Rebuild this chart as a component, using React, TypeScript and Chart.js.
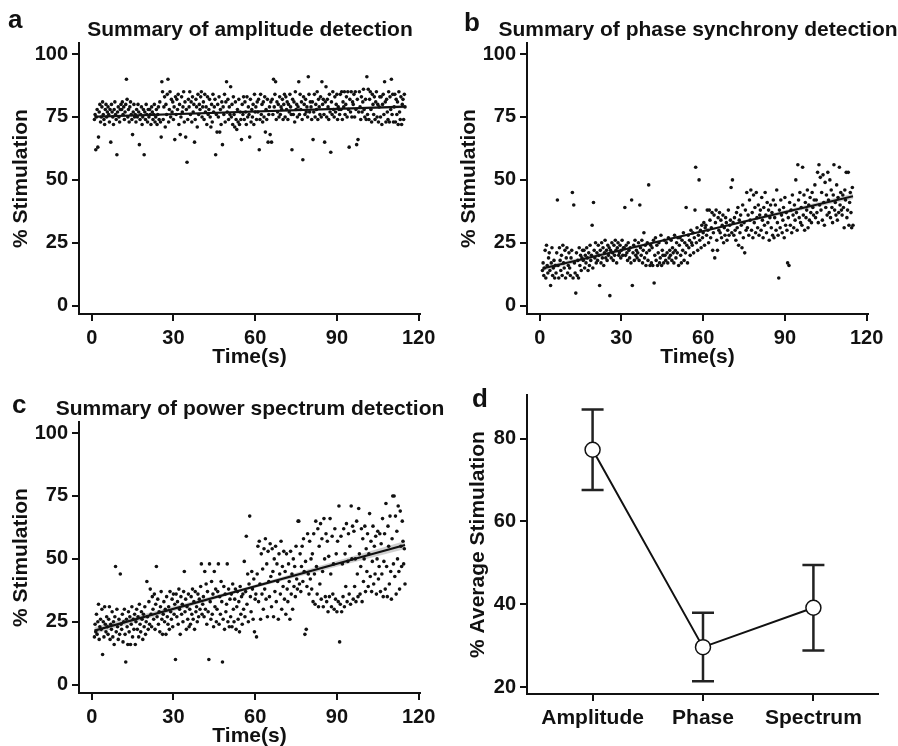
import React, { useEffect, useRef } from "react";
import { Chart, registerables } from "chart.js";

Chart.register(...registerables);

const FONT = "'Liberation Sans', Arial, Helvetica, sans-serif";
const INK = "#111111";

// ---- shared axis ticks ----
const timeTicks = [0, 30, 60, 90, 120];
const pctTicks = [0, 25, 50, 75, 100];
// samples start at 1 s and are taken every 0.25 s
const SAMPLE_START_S = 1;
const SAMPLE_STEP_S = 0.25;

// ---- panel a: amplitude detection (% stimulation per sample) ----
const amplitudeValues = [
  74, 76, 62, 75, 78, 63, 67, 77, 80, 73, 75, 79, 81, 76, 74, 72, 78, 80, 75, 77,
  79, 76, 73, 78, 65, 80, 77, 75, 72, 78, 81, 76, 74, 60, 77, 79, 75, 73, 78, 80,
  78, 81, 76, 79, 74, 77, 80, 90, 82, 75, 78, 73, 79, 81, 76, 74, 68, 77, 80, 75,
  76, 73, 78, 75, 80, 77, 64, 74, 76, 79, 72, 75, 78, 60, 77, 74, 80, 76, 73, 78,
  75, 78, 76, 72, 79, 77, 74, 76, 80, 73, 75, 78, 72, 76, 79, 74, 81, 73, 67, 89,
  85, 74, 79, 83, 71, 80, 76, 84, 90, 73, 78, 85, 75, 82, 77, 81, 74, 79, 66, 83,
  76, 82, 78, 84, 72, 80, 68, 75, 83, 77, 79, 85, 73, 81, 67, 78, 57, 74, 82, 79,
  85, 76, 81, 73, 83, 77, 80, 65, 74, 82, 79, 71, 84, 76, 80, 78, 83, 85, 75, 79,
  81, 74, 84, 77, 79, 72, 83, 76, 78, 82, 75, 71, 80, 73, 84, 77, 79, 82, 60, 76,
  69, 80, 75, 83, 69, 78, 72, 81, 64, 79, 76, 84, 73, 81, 89, 77, 82, 74, 79, 76,
  87, 75, 80, 72, 83, 76, 71, 81, 74, 70, 78, 73, 82, 72, 77, 74, 66, 80, 76, 83,
  74, 81, 77, 72, 83, 75, 79, 76, 67, 82, 73, 78, 75, 80, 72, 84, 77, 79, 74, 81,
  77, 82, 62, 74, 84, 76, 80, 73, 81, 75, 83, 69, 78, 74, 82, 65, 76, 79, 68, 81,
  65, 82, 76, 90, 79, 84, 89, 74, 81, 77, 80, 75, 83, 76, 79, 78, 82, 74, 80, 84,
  75, 83, 78, 81, 74, 80, 77, 84, 79, 76, 62, 82, 76, 81, 73, 85, 78, 80, 75, 79,
  89, 76, 84, 78, 81, 74, 58, 83, 80, 76, 82, 77, 79, 75, 91, 84, 77, 81, 79, 74,
  81, 66, 77, 84, 75, 80, 78, 85, 74, 82, 79, 76, 83, 75, 89, 80, 82, 76, 65, 81,
  87, 75, 82, 79, 74, 84, 77, 61, 81, 76, 85, 78, 75, 83, 77, 80, 84, 74, 79, 78,
  76, 84, 78, 85, 74, 81, 79, 85, 76, 80, 83, 75, 85, 78, 63, 82, 77, 85, 75, 81,
  80, 84, 75, 85, 78, 64, 82, 66, 77, 85, 79, 74, 83, 77, 81, 86, 78, 75, 82, 74,
  91, 76, 86, 74, 82, 85, 78, 73, 84, 80, 76, 83, 74, 81, 85, 75, 80, 73, 79, 83,
  75, 83, 72, 80, 84, 76, 89, 81, 73, 82, 77, 74, 85, 73, 83, 78, 90, 76, 84, 73,
  79, 84, 73, 82, 76, 81, 72, 85, 77, 74, 83, 72, 80, 82, 74, 84, 79,
];

// ---- panel b: phase synchrony detection ----
const phaseValues = [
  14, 17, 12, 15, 22, 11, 24, 16, 13, 19, 21, 14, 8, 17, 23, 12, 15, 18, 11, 16,
  13, 21, 42, 16, 11, 23, 18, 14, 20, 12, 24, 17, 15, 22, 11, 19, 23, 13, 16, 21,
  15, 12, 19, 22, 45, 11, 40, 17, 13, 5, 21, 12, 18, 11, 23, 16, 20, 14, 19, 22,
  18, 22, 15, 20, 17, 23, 19, 14, 21, 16, 24, 18, 20, 32, 15, 41, 22, 19, 25, 17,
  21, 18, 24, 20, 8, 22, 17, 25, 19, 23, 16, 21, 26, 19, 22, 18, 24, 20, 23, 4,
  22, 19, 25, 21, 18, 24, 20, 26, 22, 17, 23, 25, 20, 21, 24, 19, 22, 26, 20, 23,
  23, 39, 20, 24, 21, 18, 25, 22, 19, 23, 17, 42, 8, 21, 24, 18, 26, 20, 22, 19,
  21, 25, 18, 40, 23, 20, 26, 17, 22, 29, 19, 24, 16, 21, 25, 18, 48, 22, 16, 24,
  17, 23, 16, 26, 9, 20, 27, 18, 24, 16, 21, 25, 17, 19, 28, 16, 22, 20, 17, 26,
  20, 18, 25, 21, 17, 27, 19, 22, 20, 26, 18, 23, 21, 17, 28, 22, 19, 25, 21, 27,
  16, 24, 27, 20, 17, 26, 22, 29, 18, 25, 21, 39, 24, 17, 28, 23, 26, 20, 30, 25,
  24, 29, 21, 27, 38, 55, 25, 31, 22, 28, 50, 26, 30, 23, 32, 27, 29, 33, 24, 31,
  32, 28, 38, 30, 25, 38, 34, 27, 31, 37, 22, 29, 36, 19, 33, 38, 26, 22, 35, 30,
  37, 29, 34, 27, 32, 36, 25, 31, 28, 35, 33, 26, 30, 38, 28, 32, 34, 47, 29, 50,
  33, 28, 35, 30, 26, 37, 31, 39, 24, 34, 29, 36, 32, 23, 40, 27, 33, 21, 38, 30,
  45, 31, 36, 28, 42, 34, 46, 30, 37, 27, 44, 33, 39, 29, 45, 35, 31, 40, 28, 36,
  38, 30, 43, 34, 27, 39, 32, 45, 36, 29, 41, 33, 38, 26, 35, 40, 31, 37, 28, 42,
  27, 35, 40, 30, 46, 33, 28, 11, 38, 31, 42, 36, 29, 34, 39, 27, 43, 32, 37, 30,
  17, 35, 16, 41, 32, 38, 29, 44, 36, 31, 40, 34, 50, 37, 30, 56, 42, 35, 45, 33,
  39, 32, 55, 36, 44, 30, 41, 35, 38, 46, 31, 40, 34, 43, 37, 33, 45, 39, 36, 42,
  48, 35, 42, 37, 53, 33, 56, 40, 51, 38, 45, 34, 52, 41, 32, 49, 39, 44, 36, 53,
  42, 37, 50, 35, 46, 39, 33, 44, 56, 38, 41, 36, 48, 34, 43, 37, 55, 40, 45, 38,
  36, 44, 39, 31, 46, 42, 53, 35, 38, 53, 32, 41, 45, 37, 31, 47, 32,
];

// ---- panel c: power spectrum detection ----
const spectrumValues = [
  19, 24, 21, 28, 20, 25, 32, 18, 23, 26, 22, 30, 12, 25, 19, 31, 24, 21, 27, 23,
  20, 26, 31, 18, 24, 22, 29, 19, 25, 16, 27, 47, 21, 30, 23, 18, 26, 20, 44, 24,
  22, 28, 17, 25, 30, 20, 9, 26, 23, 16, 29, 21, 27, 16, 24, 31, 19, 26, 22, 28,
  16, 25, 30, 22, 27, 19, 32, 24, 21, 29, 26, 18, 28, 23, 31, 20, 25, 41, 27, 22,
  33, 24, 38, 28, 23, 35, 30, 26, 36, 22, 32, 47, 27, 34, 24, 29, 21, 31, 37, 26,
  20, 28, 33, 25, 30, 20, 35, 27, 24, 31, 22, 37, 29, 26, 34, 23, 36, 28, 32, 10,
  36, 27, 33, 24, 38, 30, 20, 35, 28, 32, 25, 37, 45, 29, 34, 22, 31, 26, 36, 23,
  30, 24, 35, 28, 38, 26, 33, 22, 37, 29, 31, 25, 36, 27, 34, 30, 39, 48, 28, 32,
  35, 27, 45, 30, 40, 24, 37, 29, 10, 48, 33, 26, 41, 28, 36, 23, 45, 31, 38, 25,
  30, 37, 48, 24, 35, 28, 41, 33, 9, 26, 39, 22, 36, 29, 32, 48, 25, 38, 23, 34,
  27, 36, 23, 40, 30, 25, 34, 38, 22, 31, 37, 26, 33, 21, 39, 28, 35, 24, 36, 30,
  49, 27, 37, 59, 32, 44, 25, 40, 67, 35, 29, 45, 38, 26, 42, 21, 34, 36, 19, 44,
  55, 33, 57, 40, 26, 52, 36, 46, 30, 54, 38, 58, 34, 48, 27, 53, 41, 35, 56, 43,
  31, 54, 45, 27, 50, 37, 55, 33, 48, 41, 26, 52, 44, 36, 57, 30, 47, 39, 53, 34,
  45, 28, 52, 38, 33, 48, 41, 26, 53, 36, 44, 30, 50, 39, 47, 35, 55, 42, 38, 65,
  65, 40, 52, 37, 47, 55, 41, 58, 45, 20, 49, 22, 39, 60, 44, 36, 57, 42, 50, 38,
  52, 33, 60, 44, 32, 65, 47, 36, 62, 31, 55, 40, 64, 34, 58, 45, 31, 66, 50, 35,
  60, 33, 57, 29, 51, 35, 66, 44, 31, 59, 36, 48, 30, 62, 34, 52, 29, 57, 33, 71,
  17, 32, 59, 29, 48, 35, 62, 31, 52, 39, 64, 33, 49, 60, 36, 55, 32, 71, 50, 63,
  34, 61, 39, 50, 33, 65, 44, 35, 70, 52, 36, 47, 62, 33, 58, 41, 50, 63, 37, 54,
  45, 60, 39, 52, 68, 43, 57, 37, 49, 63, 40, 55, 44, 59, 36, 50, 61, 42, 47, 60,
  37, 56, 44, 66, 35, 49, 60, 38, 72, 47, 35, 63, 55, 40, 67, 45, 34, 58, 75, 48,
  75, 43, 67, 36, 61, 50, 71, 45, 38, 69, 55, 47, 65, 57, 48, 54, 40,
];

// ---- regression lines and confidence bands ----
const fitTimes = [1, 115];
const amplitudeFit = [75.1, 79.1];
const phaseFit = [14.8, 43.5];
const spectrumFit = [21.5, 55.5];

const bandTimes = [1, 58, 115];
const amplitudeBandLow = [74.5, 76.9, 78.5];
const amplitudeBandHigh = [75.7, 77.3, 79.7];
const phaseBandLow = [13.8, 28.8, 42.4];
const phaseBandHigh = [15.8, 29.5, 44.6];
const spectrumBandLow = [20.1, 37.9, 53.9];
const spectrumBandHigh = [22.9, 39.1, 57.1];

// ---- panel d: average stimulation ----
const methodNames = ["Amplitude", "Phase", "Spectrum"];
const methodPositions = [1, 2, 3];
const avgMeans = [77.3, 29.7, 39.2];
const avgUpper = [87.0, 38.0, 49.5];
const avgLower = [67.6, 21.5, 28.9];
const avgTicks = [20, 40, 60, 80];

const tickFont = (size: number) => ({ family: FONT, size, weight: "bold" as const });

function baseAxis(fontSize: number) {
  return {
    border: { display: true, color: INK, width: 2 },
    grid: {
      display: true,
      drawOnChartArea: false,
      drawTicks: true,
      tickLength: 7,
      color: INK,
      lineWidth: 2,
    },
    ticks: {
      color: INK,
      font: tickFont(fontSize),
      padding: 4,
      autoSkip: false,
      maxRotation: 0,
    },
  };
}

type ScatterProps = {
  values: number[];
  fit: number[];
  bandLow: number[];
  bandHigh: number[];
  left: number;
  top: number;
  width: number;
  height: number;
};

function ScatterPanel(props: ScatterProps) {
  const ref = useRef<HTMLCanvasElement | null>(null);
  useEffect(() => {
    if (!ref.current) return;
    const pts = props.values.map((v, i) => ({ x: SAMPLE_START_S + i * SAMPLE_STEP_S, y: v }));
    const fitPts = fitTimes.map((t, i) => ({ x: t, y: props.fit[i] }));
    const lowPts = bandTimes.map((t, i) => ({ x: t, y: props.bandLow[i] }));
    const highPts = bandTimes.map((t, i) => ({ x: t, y: props.bandHigh[i] }));
    const xAxis = baseAxis(20);
    const yAxis = baseAxis(20);
    const chart = new Chart(ref.current, {
      type: "scatter",
      data: {
        datasets: [
          {
            data: fitPts,
            showLine: true,
            borderColor: INK,
            borderWidth: 2.2,
            pointRadius: 0,
          },
          {
            data: pts,
            backgroundColor: INK,
            borderWidth: 0,
            pointRadius: 1.8,
          },
          {
            data: lowPts,
            showLine: true,
            borderColor: "rgba(0,0,0,0)",
            borderWidth: 0,
            pointRadius: 0,
          },
          {
            data: highPts,
            showLine: true,
            borderColor: "rgba(0,0,0,0)",
            borderWidth: 0,
            pointRadius: 0,
            fill: "-1",
            backgroundColor: "rgba(150,150,150,0.45)",
          },
        ],
      },
      options: {
        responsive: false,
        animation: false,
        devicePixelRatio: 1,
        layout: { padding: { top: 43, right: props.width - 420, left: 0, bottom: 0 } },
        plugins: { legend: { display: false }, tooltip: { enabled: false }, title: { display: false } },
        scales: {
          x: {
            type: "linear",
            min: -4.66,
            max: 120.5,
            ...xAxis,
            ticks: { ...xAxis.ticks, padding: 5 },
            afterBuildTicks: (s: any) => {
              s.ticks = timeTicks.map((v) => ({ value: v }));
            },
            afterFit: (s: any) => {
              s.height = 58;
            },
            title: {
              display: true,
              text: "Time(s)",
              color: INK,
              font: tickFont(21),
              padding: { top: 0, bottom: 2 },
            },
          },
          y: {
            type: "linear",
            min: -3.3,
            max: 104.4,
            ...yAxis,
            ticks: { ...yAxis.ticks, padding: 4 },
            afterBuildTicks: (s: any) => {
              s.ticks = pctTicks.map((v) => ({ value: v }));
            },
            afterFit: (s: any) => {
              s.width = 79;
            },
            title: {
              display: true,
              text: "% Stimulation",
              color: INK,
              font: tickFont(21),
              padding: { top: 9, bottom: 0 },
            },
          },
        },
      } as any,
    });
    return () => chart.destroy();
  }, []);
  return (
    <canvas
      ref={ref}
      width={props.width}
      height={props.height}
      style={{ position: "absolute", left: props.left, top: props.top, width: props.width, height: props.height }}
    />
  );
}

function AveragePanel(props: { left: number; top: number; width: number; height: number }) {
  const ref = useRef<HTMLCanvasElement | null>(null);
  useEffect(() => {
    if (!ref.current) return;
    const errorBars = {
      id: "errorBars",
      beforeDatasetsDraw(chart: any) {
        const { ctx, scales } = chart;
        const x = scales.x;
        const y = scales.y;
        ctx.save();
        ctx.strokeStyle = "#222";
        ctx.lineWidth = 2.5;
        methodPositions.forEach((p, i) => {
          const px = x.getPixelForValue(p);
          const pTop = y.getPixelForValue(avgUpper[i]);
          const pBot = y.getPixelForValue(avgLower[i]);
          ctx.beginPath();
          ctx.moveTo(px, pTop);
          ctx.lineTo(px, pBot);
          ctx.moveTo(px - 11, pTop);
          ctx.lineTo(px + 11, pTop);
          ctx.moveTo(px - 11, pBot);
          ctx.lineTo(px + 11, pBot);
          ctx.stroke();
        });
        ctx.restore();
      },
    };
    const xAxis = baseAxis(21);
    const yAxis = baseAxis(20);
    const chart = new Chart(ref.current, {
      type: "scatter",
      data: {
        datasets: [
          {
            data: methodPositions.map((p, i) => ({ x: p, y: avgMeans[i] })),
            showLine: true,
            borderColor: INK,
            borderWidth: 2,
            pointRadius: 7.5,
            pointBackgroundColor: "#ffffff",
            pointBorderColor: INK,
            pointBorderWidth: 1.5,
          },
        ],
      },
      options: {
        responsive: false,
        animation: false,
        devicePixelRatio: 1,
        layout: { padding: { top: 14, right: props.width - 430, left: 0, bottom: 0 } },
        plugins: { legend: { display: false }, tooltip: { enabled: false }, title: { display: false } },
        scales: {
          x: {
            type: "linear",
            min: 0.406,
            max: 3.585,
            ...xAxis,
            ticks: {
              ...xAxis.ticks,
              padding: 5,
              callback: (v: any) => methodNames[methodPositions.indexOf(Number(v))] ?? "",
            },
            afterBuildTicks: (s: any) => {
              s.ticks = methodPositions.map((v) => ({ value: v }));
            },
            afterFit: (s: any) => {
              s.height = 52;
            },
          },
          y: {
            type: "linear",
            min: 18.4,
            max: 90.5,
            ...yAxis,
            ticks: { ...yAxis.ticks, padding: 4 },
            afterBuildTicks: (s: any) => {
              s.ticks = avgTicks.map((v) => ({ value: v }));
            },
            afterFit: (s: any) => {
              s.width = 79;
            },
            title: {
              display: true,
              text: "% Average Stimulation",
              color: INK,
              font: tickFont(21),
              padding: { top: 18, bottom: 0 },
            },
          },
        },
      } as any,
      plugins: [errorBars],
    });
    return () => chart.destroy();
  }, []);
  return (
    <canvas
      ref={ref}
      width={props.width}
      height={props.height}
      style={{ position: "absolute", left: props.left, top: props.top, width: props.width, height: props.height }}
    />
  );
}

const textBase: React.CSSProperties = {
  position: "absolute",
  fontFamily: FONT,
  fontWeight: "bold",
  color: INK,
  whiteSpace: "nowrap",
};

function Title(props: { text: string; center: number; top: number }) {
  return (
    <div
      style={{
        ...textBase,
        left: props.center - 250,
        width: 500,
        top: props.top,
        fontSize: 21,
        lineHeight: "21px",
        textAlign: "center",
      }}
    >
      {props.text}
    </div>
  );
}

function Letter(props: { text: string; left: number; top: number }) {
  return (
    <div style={{ ...textBase, left: props.left, top: props.top, fontSize: 26, lineHeight: "26px" }}>
      {props.text}
    </div>
  );
}

export default function App() {
  return (
    <div
      style={{
        position: "fixed",
        left: 0,
        top: 0,
        width: 898,
        height: 746,
        overflow: "hidden",
        background: "#ffffff",
      }}
    >
      <ScatterPanel
        values={amplitudeValues}
        fit={amplitudeFit}
        bandLow={amplitudeBandLow}
        bandHigh={amplitudeBandHigh}
        left={0}
        top={0}
        width={449}
        height={372}
      />
      <ScatterPanel
        values={phaseValues}
        fit={phaseFit}
        bandLow={phaseBandLow}
        bandHigh={phaseBandHigh}
        left={448}
        top={0}
        width={450}
        height={372}
      />
      <ScatterPanel
        values={spectrumValues}
        fit={spectrumFit}
        bandLow={spectrumBandLow}
        bandHigh={spectrumBandHigh}
        left={0}
        top={379}
        width={449}
        height={372}
      />
      <AveragePanel left={448} top={379} width={450} height={367} />
      <Letter text="a" left={8} top={6} />
      <Letter text="b" left={464} top={9} />
      <Letter text="c" left={12} top={391} />
      <Letter text="d" left={472} top={385} />
      <Title text="Summary of amplitude detection" center={250} top={18} />
      <Title text="Summary of phase synchrony detection" center={698} top={18} />
      <Title text="Summary of power spectrum detection" center={250} top={397} />
    </div>
  );
}
